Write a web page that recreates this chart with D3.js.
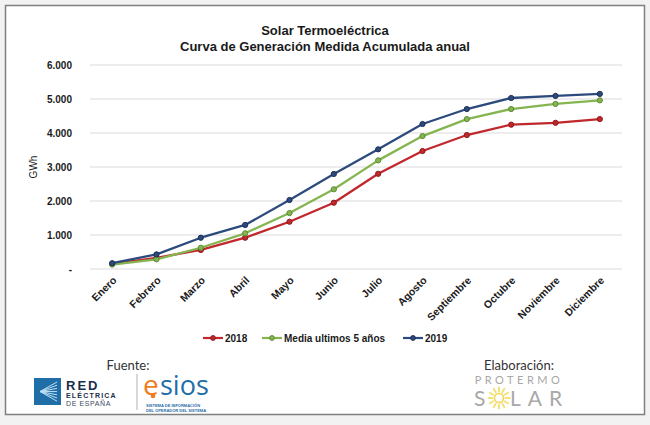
<!DOCTYPE html>
<html>
<head>
<meta charset="utf-8">
<script src="https://cdn.jsdelivr.net/npm/d3@7"></script>
<style>
  html, body { margin: 0; padding: 0; background: #f2f2f2; }
  svg { display: block; }
</style>
</head>
<body>
<svg id="chart" width="650" height="425"></svg>
<script>
const months = ["Enero", "Febrero", "Marzo", "Abril", "Mayo", "Junio", "Julio",
  "Agosto", "Septiembre", "Octubre", "Noviembre", "Diciembre"];
const values2018 = [150, 330, 560, 920, 1390, 1950, 2800, 3470, 3940, 4245, 4300, 4410];
const valuesMedia = [130, 285, 625, 1050, 1645, 2345, 3195, 3910, 4410, 4705, 4855, 4960];
const values2019 = [170, 430, 920, 1295, 2030, 2795, 3520, 4265, 4705, 5030, 5090, 5150];
const yTicks = [0, 1000, 2000, 3000, 4000, 5000, 6000];
const yTickLabels = ["-", "1.000", "2.000", "3.000", "4.000", "5.000", "6.000"];

const series = [
  { name: "2018", values: values2018, color: "#c0282d", dark: "#8e1a1e" },
  { name: "Media ultimos 5 años", values: valuesMedia, color: "#84b550", dark: "#5f8a35" },
  { name: "2019", values: values2019, color: "#2d4a7c", dark: "#1c3058" },
];

const svg = d3.select("#chart");
const font = "'Liberation Sans', Arial, sans-serif";

// frame
svg.append("rect")
  .attr("x", 5.5).attr("y", 5.5).attr("width", 639).attr("height", 409)
  .attr("fill", "#ffffff").attr("stroke", "#7f7f7f").attr("stroke-width", 1.5);

// title
const title = svg.append("g").attr("font-family", font).attr("font-weight", "bold")
  .attr("font-size", 13).attr("fill", "#1a1a1a").attr("text-anchor", "middle");
title.append("text").attr("x", 325).attr("y", 35).text("Solar Termoeléctrica");
title.append("text").attr("x", 325).attr("y", 51).text("Curva de Generación Medida Acumulada anual");

const x = d3.scaleBand().domain(months).range([90, 622]);
const y = d3.scaleLinear().domain([0, 6000]).range([269, 65]);

// gridlines
svg.append("g").selectAll("line").data(yTicks).join("line")
  .attr("x1", 90).attr("x2", 622)
  .attr("y1", (d) => y(d)).attr("y2", (d) => y(d))
  .attr("stroke", "#dcdcdc").attr("stroke-width", 1.2);

// y axis
const yAxis = svg.append("g")
  .attr("transform", "translate(72,0)")
  .call(d3.axisLeft(y).tickValues(yTicks).tickSize(0).tickPadding(0)
    .tickFormat((d, i) => yTickLabels[i]));
yAxis.select(".domain").remove();
yAxis.selectAll("text")
  .attr("font-family", font).attr("font-weight", "bold")
  .attr("font-size", 10).attr("fill", "#1a1a1a");

svg.append("text")
  .attr("transform", "translate(37,167) rotate(-90)")
  .attr("text-anchor", "middle")
  .attr("font-family", font).attr("font-size", 10).attr("fill", "#1a1a1a")
  .text("GWh");

// x axis
const xAxis = svg.append("g")
  .attr("transform", "translate(0,273)")
  .call(d3.axisBottom(x).tickSize(0).tickPadding(0));
xAxis.select(".domain").remove();
xAxis.selectAll("text")
  .attr("font-family", font).attr("font-weight", "bold")
  .attr("font-size", 10.5).attr("fill", "#1a1a1a")
  .attr("text-anchor", "end")
  .attr("dy", 0)
  .attr("transform", "translate(5,8) rotate(-45)");

// lines
const line = d3.line()
  .x((d, i) => x(months[i]) + x.bandwidth() / 2)
  .y((d) => y(d));

const seriesG = svg.append("g");
series.forEach((s) => {
  seriesG.append("path")
    .attr("d", line(s.values))
    .attr("fill", "none").attr("stroke", s.color).attr("stroke-width", 2.3)
    .attr("stroke-linejoin", "round");
  seriesG.append("g").selectAll("circle").data(s.values).join("circle")
    .attr("cx", (d, i) => x(months[i]) + x.bandwidth() / 2)
    .attr("cy", (d) => y(d))
    .attr("r", 2.6)
    .attr("fill", s.color).attr("stroke", s.dark).attr("stroke-width", 1);
});

// legend
const legendX = [203, 262, 403];
const legend = svg.append("g");
series.forEach((s, i) => {
  const g = legend.append("g").attr("transform", `translate(${legendX[i]},338)`);
  g.append("line").attr("x1", 0).attr("x2", 20).attr("y1", 0).attr("y2", 0)
    .attr("stroke", s.color).attr("stroke-width", 2.2);
  g.append("circle").attr("cx", 10).attr("cy", 0).attr("r", 2.4)
    .attr("fill", s.color).attr("stroke", s.dark);
  g.append("text").attr("x", 22).attr("y", 3.5)
    .attr("font-family", font).attr("font-weight", "bold")
    .attr("font-size", 10).attr("fill", "#1a1a1a").text(s.name);
});

// footer: sources
const foot = svg.append("g").attr("font-family", "Lato, 'Open Sans', sans-serif");
foot.append("text").attr("x", 128).attr("y", 370).attr("text-anchor", "middle")
  .attr("font-size", 13).attr("fill", "#333").text("Fuente:");

// Red Eléctrica logo
foot.append("rect").attr("x", 34).attr("y", 378).attr("width", 27).attr("height", 27)
  .attr("fill", "#1f6ea8");
const rays = d3.range(7);
foot.append("g").selectAll("line").data(rays).join("line")
  .attr("x1", 40).attr("y1", 391.5)
  .attr("x2", 57).attr("y2", (d) => 382 + d * 3.2)
  .attr("stroke", "#bfe0f5").attr("stroke-width", 1);
foot.append("text").attr("x", 66).attr("y", 390).attr("font-family", font)
  .attr("font-weight", "bold").attr("font-size", 13).attr("letter-spacing", 2)
  .attr("fill", "#1c2d4a").text("RED");
foot.append("text").attr("x", 66).attr("y", 398).attr("font-family", font)
  .attr("font-weight", "bold").attr("font-size", 7).attr("letter-spacing", 1.2)
  .attr("fill", "#1c2d4a").text("ELÉCTRICA");
foot.append("text").attr("x", 66).attr("y", 406).attr("font-family", font)
  .attr("font-size", 7).attr("letter-spacing", 0.6)
  .attr("fill", "#3a4a60").text("DE ESPAÑA");
foot.append("line").attr("x1", 137).attr("x2", 137).attr("y1", 374).attr("y2", 410)
  .attr("stroke", "#b0b0b0");

// esios logo
foot.append("text").attr("x", 143).attr("y", 395).attr("font-family", "'Open Sans', sans-serif")
  .attr("font-size", 28).attr("fill", "#ee7d1f").text("e");
foot.append("circle").attr("cx", 153).attr("cy", 396).attr("r", 2.3).attr("fill", "#ee7d1f");
foot.append("text").attr("x", 160).attr("y", 395).attr("font-family", "'Open Sans', sans-serif")
  .attr("font-size", 27).attr("fill", "#1f6ea8").text("sios");
foot.append("text").attr("x", 146).attr("y", 407).attr("font-family", font)
  .attr("font-weight", "bold").attr("font-size", 4).attr("fill", "#1f6ea8")
  .text("SISTEMA DE INFORMACIÓN");
foot.append("text").attr("x", 146).attr("y", 411.5).attr("font-family", font)
  .attr("font-weight", "bold").attr("font-size", 4).attr("fill", "#1f6ea8")
  .text("DEL OPERADOR DEL SISTEMA");

// Protermo Solar
foot.append("text").attr("x", 519).attr("y", 370).attr("text-anchor", "middle")
  .attr("font-size", 13).attr("fill", "#333").text("Elaboración:");
foot.append("text").attr("x", 519).attr("y", 384).attr("text-anchor", "middle")
  .attr("font-size", 11).attr("letter-spacing", 3.5).attr("fill", "#a8a8a8").text("PROTERMO");
const solar = foot.append("g").attr("font-size", 21).attr("fill", "#a8a8a8");
solar.append("text").attr("x", 474).attr("y", 406).text("S");
solar.append("text").attr("x", 510).attr("y", 406).attr("letter-spacing", 7).text("LAR");
const sun = foot.append("g").attr("transform", "translate(499,398)");
sun.append("circle").attr("r", 4.5).attr("fill", "none").attr("stroke", "#f2d75a").attr("stroke-width", 1.6);
sun.append("g").selectAll("line").data(d3.range(12)).join("line")
  .attr("x1", (d) => 6.5 * Math.cos(d * Math.PI / 6))
  .attr("y1", (d) => 6.5 * Math.sin(d * Math.PI / 6))
  .attr("x2", (d) => 10.5 * Math.cos(d * Math.PI / 6))
  .attr("y2", (d) => 10.5 * Math.sin(d * Math.PI / 6))
  .attr("stroke", "#f4e07a").attr("stroke-width", 2).attr("stroke-linecap", "round");
</script>
</body>
</html>
